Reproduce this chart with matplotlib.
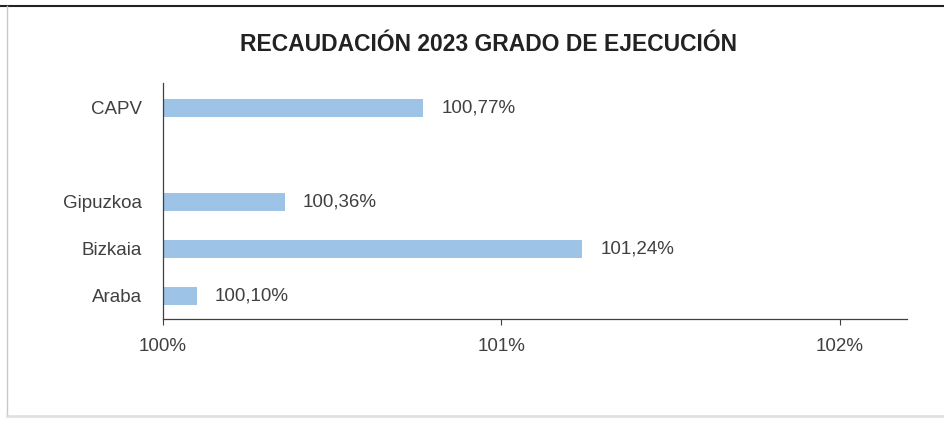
import matplotlib
matplotlib.use("Agg")
import matplotlib.pyplot as plt
from matplotlib.lines import Line2D

# data
categories = ["Araba", "Bizkaia", "Gipuzkoa", "CAPV"]
values = [100.10, 101.24, 100.36, 100.77]
xticks = [100, 101, 102]
title = "RECAUDACIÓN 2023 GRADO DE EJECUCIÓN"

plt.rcParams["font.family"] = ["Liberation Sans", "DejaVu Sans"]

fig = plt.figure(figsize=(9.44, 4.21), dpi=100)
ax = fig.add_axes([0.1727, 0.2423, 0.961 - 0.1727, 0.8029 - 0.2423])

# CAPV sits apart from the provinces, one empty slot between
ypos = [i if i < 3 else i + 1 for i in range(len(categories))]
base = 100
ax.barh(ypos, [v - base for v in values], left=base, height=0.39,
        color="#9DC3E6", edgecolor="none")
for y, v in zip(ypos, values):
    ax.annotate(f"{v:.2f}%".replace(".", ","), (v, y), xytext=(13, 0),
                textcoords="offset points", va="center", ha="left",
                fontsize=13.5, color="#404040")

ax.set_xlim(100, 102.2)
ax.set_ylim(-0.49, 4.53)
ax.set_yticks(ypos)
ax.set_yticklabels(categories, fontsize=13.5, color="#404040")
ax.set_xticks(xticks)
ax.set_xticklabels([f"{t}%" for t in xticks], fontsize=13.5, color="#404040")
ax.tick_params(axis="y", length=0, pad=15)
ax.tick_params(axis="x", length=4, width=0.8, color="#404040", pad=10)
for side in ["top", "right"]:
    ax.spines[side].set_visible(False)
for side in ["left", "bottom"]:
    ax.spines[side].set_color("#404040")
    ax.spines[side].set_linewidth(0.9)

fig.text(0.518, 0.895, title, ha="center", va="center",
         fontsize=16.5, fontweight="bold", color="#222222")

# outer frame
fig.add_artist(Line2D([0, 1], [1 - 6 / 421, 1 - 6 / 421], color="#222222", lw=1.5))
fig.add_artist(Line2D([7 / 944, 7 / 944], [1 - 6 / 421, 1 - 416 / 421], color="#c8c8c8", lw=1))
fig.add_artist(Line2D([7 / 944, 1], [1 - 416 / 421, 1 - 416 / 421], color="#e0e0e0", lw=2))

fig.savefig("out.png", dpi=100)
